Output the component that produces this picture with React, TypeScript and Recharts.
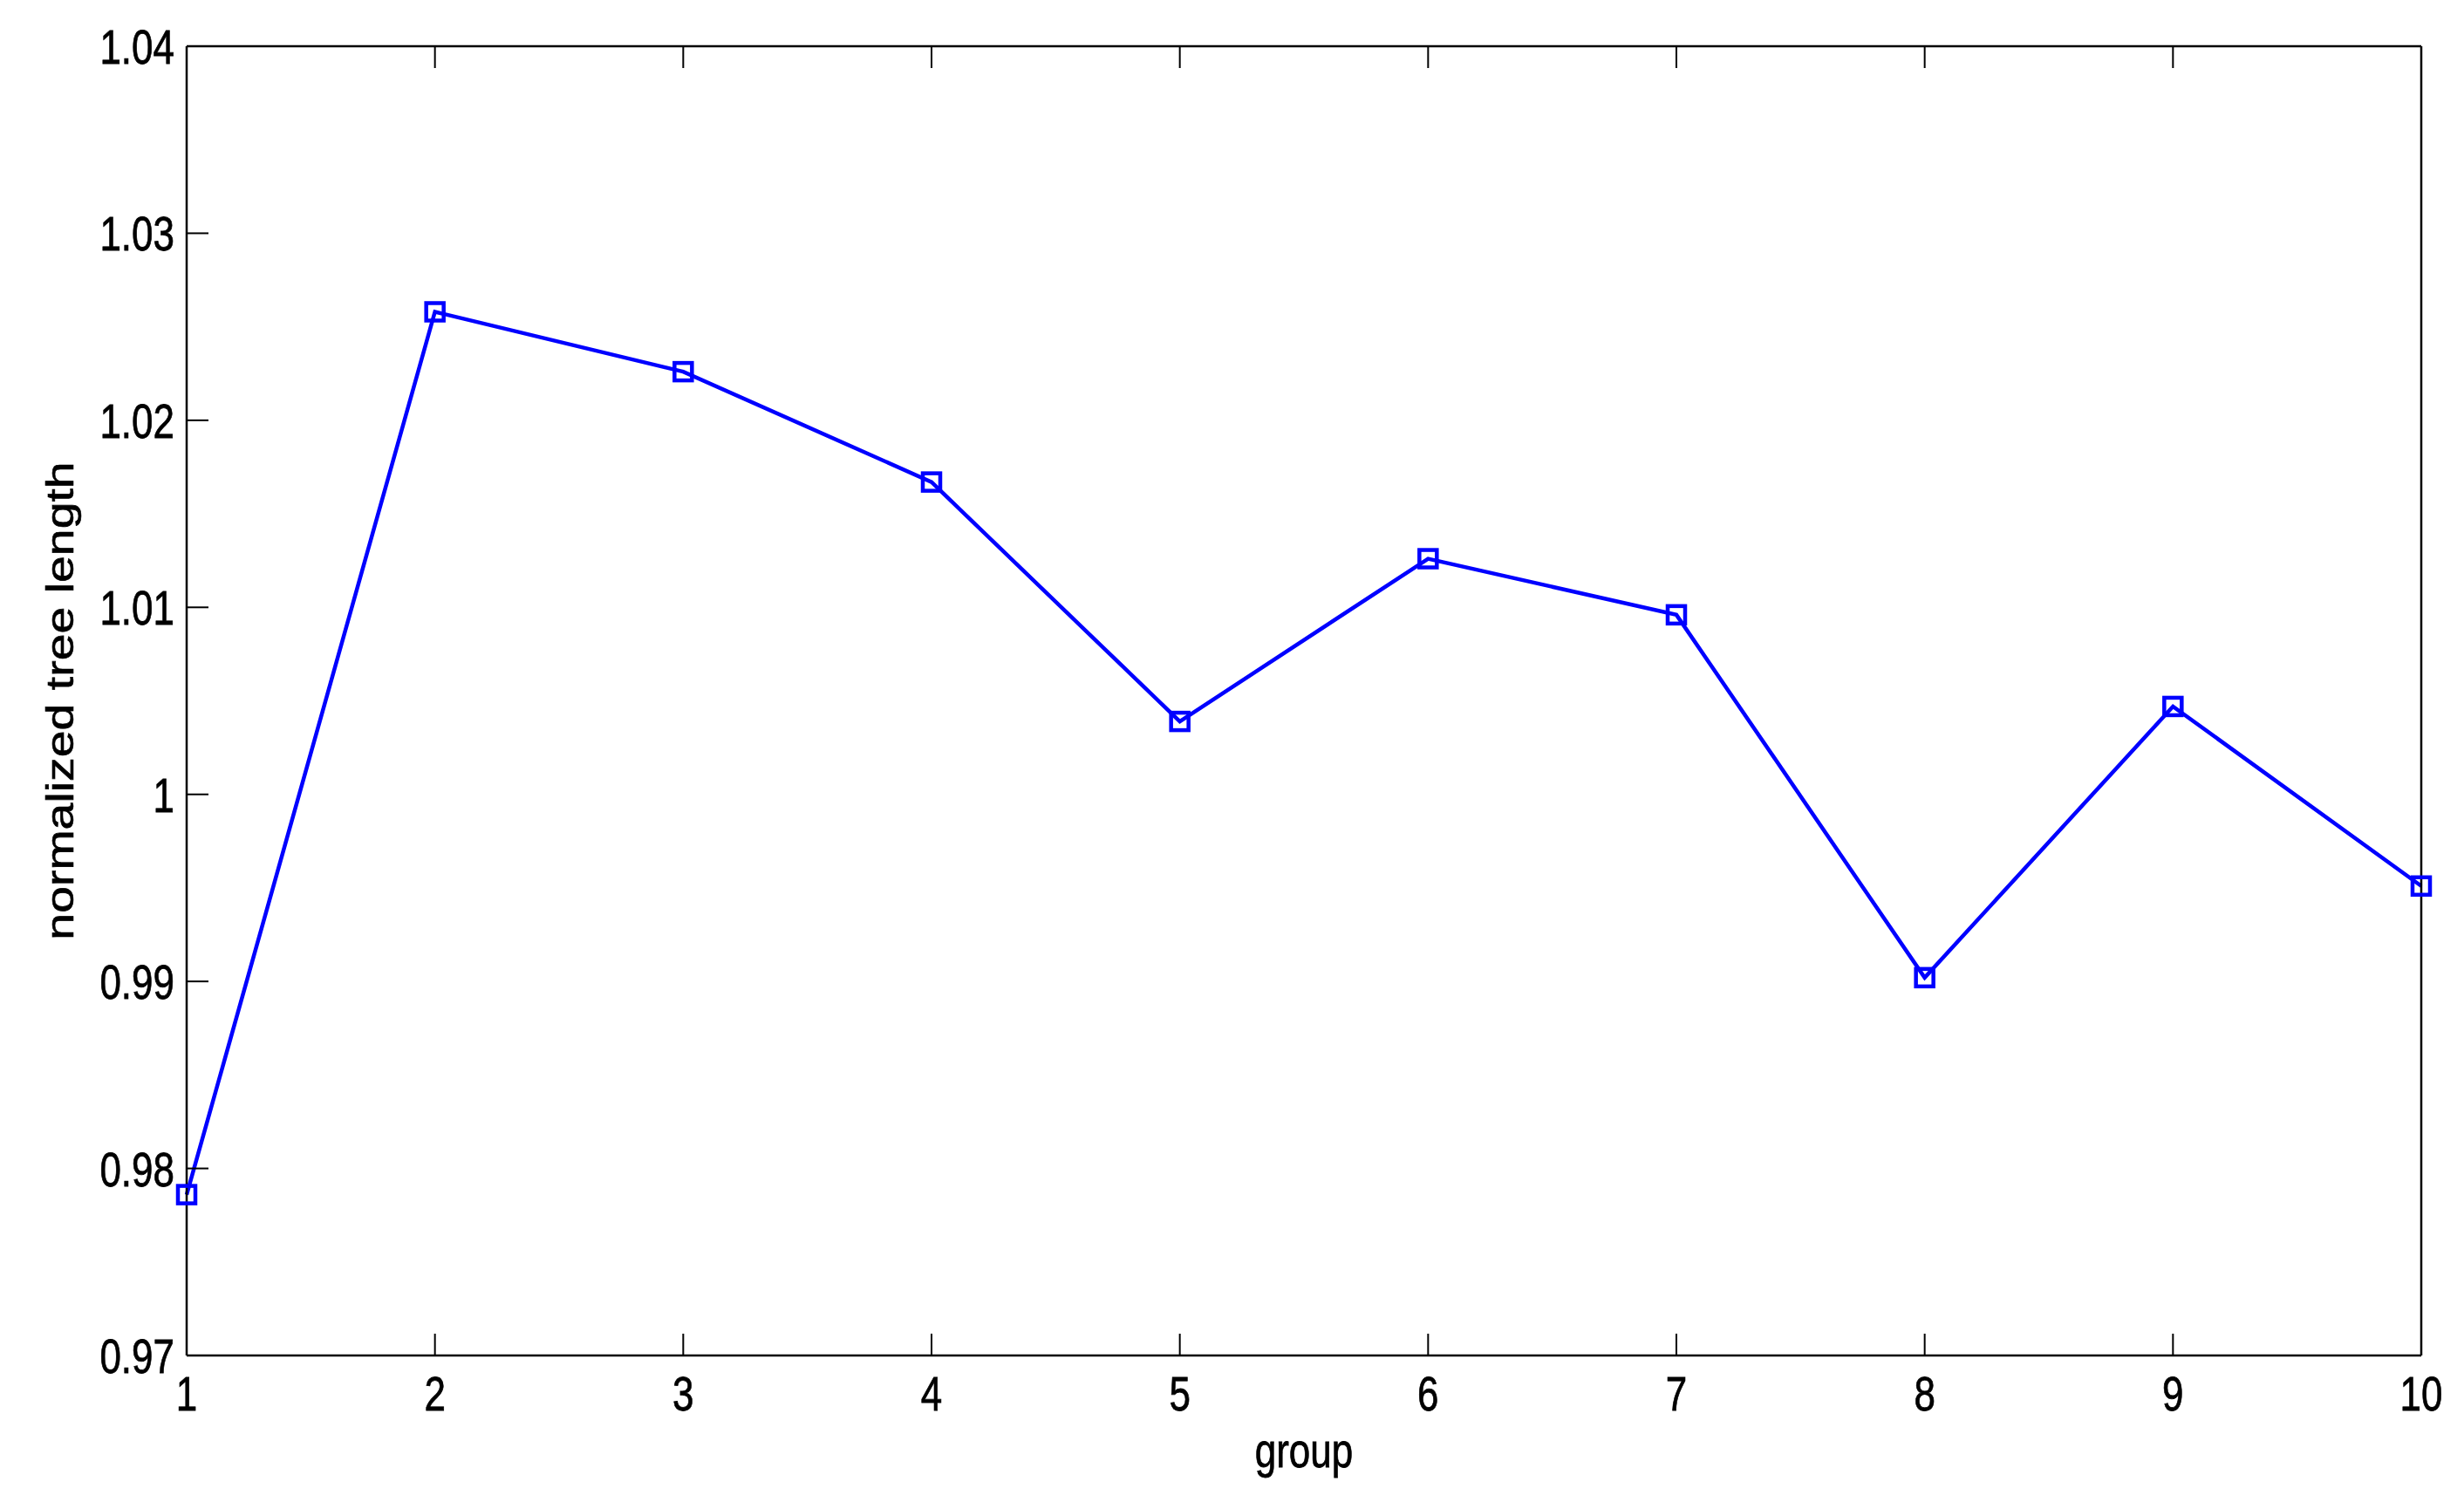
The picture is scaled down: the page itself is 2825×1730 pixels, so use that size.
import React from 'react';
import { LineChart, Line, XAxis, YAxis, Label } from 'recharts';

const groups = [1, 2, 3, 4, 5, 6, 7, 8, 9, 10];
const treeLength = [0.9786, 1.0258, 1.0226, 1.0167, 1.0039, 1.0126, 1.0096, 0.9902, 1.0047, 0.9951];
const yTicks = [0.97, 0.98, 0.99, 1.0, 1.01, 1.02, 1.03, 1.04];
const xTicks = groups;

const data = groups.map((g, i) => ({ group: g, value: treeLength[i] }));

const FONT = '"Liberation Sans", Arial, Helvetica, sans-serif';
const FS = 44;
const SY = 1.26; // the original figure is stretched vertically

const fmt = (v: number) => String(Number(v.toFixed(2)));

const YTick = (props: any) => {
  const { x, y, payload } = props;
  return (
    <g transform={`translate(${x},${y})`}>
      <text transform={`scale(1,${SY})`} textAnchor="end" dy="0.36em" fontSize={FS} fontFamily={FONT} fill="#000" stroke="#000" strokeWidth={0.6}>
        {fmt(payload.value)}
      </text>
    </g>
  );
};

const XTick = (props: any) => {
  const { x, y, payload } = props;
  return (
    <g transform={`translate(${x},${y})`}>
      <text transform={`scale(1,${SY})`} textAnchor="middle" dy="0.36em" fontSize={FS} fontFamily={FONT} fill="#000" stroke="#000" strokeWidth={0.6}>
        {payload.value}
      </text>
    </g>
  );
};

const SquareDot = (props: any) => {
  const { cx, cy, index } = props;
  if (cx == null || cy == null) return <g key={`d-${index}`} />;
  return (
    <rect
      key={`d-${index}`}
      x={cx - 10}
      y={cy - 10}
      width={20}
      height={20}
      fill="none"
      stroke="#0000FF"
      strokeWidth={4.5}
    />
  );
};

const axisLine = { stroke: '#000', strokeWidth: 2.5 };
const tickLine = { stroke: '#000', strokeWidth: 2 };

export default function App() {
  return (
    <div style={{ position: 'absolute', left: 0, top: 0, width: 2825, height: 1730, background: '#fff' }}>
      <LineChart
        width={2825}
        height={1730}
        data={data}
        margin={{ top: 52, right: 48, left: 0, bottom: 0 }}
      >
        <XAxis
          dataKey="group"
          type="number"
          domain={[1, 10]}
          ticks={xTicks}
          height={176}
          axisLine={axisLine}
          tickLine={tickLine}
          tickSize={-25}
          tickMargin={68}
          tick={XTick}
          interval={0}
        >
          <Label
            content={(p: any) => {
              const vb = p.viewBox || { x: 214, y: 1554, width: 2562 };
              return (
                <g transform={`translate(${vb.x + vb.width / 2},${vb.y + 128})`}>
                  <text transform={`scale(1,${SY})`} textAnchor="middle" fontSize={FS} fontFamily={FONT} fill="#000" stroke="#000" strokeWidth={0.6}>
                    group
                  </text>
                </g>
              );
            }}
          />
        </XAxis>
        <XAxis
          xAxisId="top"
          orientation="top"
          type="number"
          domain={[1, 10]}
          ticks={xTicks}
          height={1}
          axisLine={axisLine}
          tickLine={tickLine}
          tickSize={-25}
          tickFormatter={() => ''}
          interval={0}
        />
        <YAxis
          type="number"
          domain={[0.97, 1.04]}
          ticks={yTicks}
          width={214}
          axisLine={axisLine}
          tickLine={tickLine}
          tickSize={-25}
          tickMargin={39}
          tick={YTick}
          interval={0}
        >
          <Label
            content={(p: any) => {
              const vb = p.viewBox || { y: 53, height: 1501 };
              return (
                <g transform={`translate(84,${vb.y + vb.height / 2}) rotate(-90)`}>
                  <text transform={`scale(${SY},1)`} textAnchor="middle" fontSize={FS} fontFamily={FONT} fill="#000" stroke="#000" strokeWidth={0.6}>
                    normalized tree length
                  </text>
                </g>
              );
            }}
          />
        </YAxis>
        <YAxis
          yAxisId="right"
          orientation="right"
          type="number"
          domain={[0.97, 1.04]}
          ticks={yTicks}
          width={1}
          axisLine={axisLine}
          tickLine={tickLine}
          tickSize={-25}
          tickFormatter={() => ''}
          interval={0}
        />
        <Line
          type="linear"
          dataKey="value"
          stroke="#0000FF"
          strokeWidth={4.5}
          dot={SquareDot}
          activeDot={false}
          isAnimationActive={false}
        />
      </LineChart>
    </div>
  );
}
